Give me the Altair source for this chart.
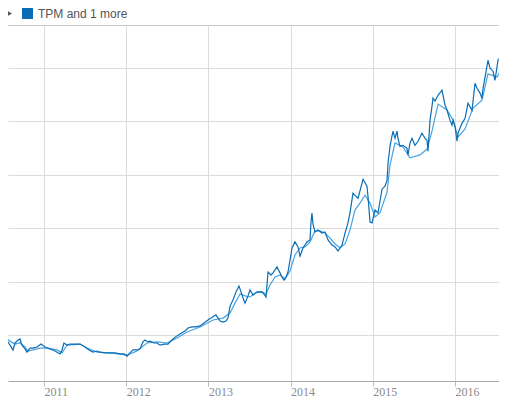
import altair as alt
import pandas as pd

# TPM daily close (decimal year, price)
price_year = [
    2010.465, 2010.489, 2010.501, 2010.526, 2010.562, 2010.586, 2010.623, 2010.647, 2010.684, 2010.708,
    2010.732, 2010.769, 2010.793, 2010.830, 2010.866, 2010.915, 2010.964, 2011.012, 2011.073, 2011.134,
    2011.195, 2011.219, 2011.243, 2011.280, 2011.316, 2011.377, 2011.438, 2011.499, 2011.547, 2011.596,
    2011.645, 2011.681, 2011.742, 2011.803, 2011.864, 2011.925, 2011.973, 2012.010, 2012.046, 2012.083,
    2012.131, 2012.168, 2012.204, 2012.229, 2012.265, 2012.289, 2012.338, 2012.375, 2012.411, 2012.460,
    2012.508, 2012.557, 2012.594, 2012.654, 2012.715, 2012.752, 2012.800, 2012.849, 2012.898, 2012.946,
    2012.995, 2013.032, 2013.068, 2013.092, 2013.117, 2013.141, 2013.178, 2013.214, 2013.238, 2013.263,
    2013.299, 2013.336, 2013.372, 2013.397, 2013.421, 2013.445, 2013.482, 2013.506, 2013.543, 2013.591,
    2013.652, 2013.676, 2013.701, 2013.725, 2013.761, 2013.786, 2013.810, 2013.834, 2013.871, 2013.895,
    2013.920, 2013.944, 2013.968, 2013.993, 2014.017, 2014.053, 2014.090, 2014.114, 2014.151, 2014.199,
    2014.236, 2014.248, 2014.260, 2014.272, 2014.297, 2014.333, 2014.382, 2014.418, 2014.455, 2014.504,
    2014.540, 2014.577, 2014.625, 2014.662, 2014.698, 2014.722, 2014.759, 2014.783, 2014.820, 2014.868,
    2014.881, 2014.929, 2014.941, 2014.966, 2014.990, 2015.027, 2015.063, 2015.112, 2015.148, 2015.173,
    2015.185, 2015.209, 2015.233, 2015.246, 2015.270, 2015.294, 2015.306, 2015.331, 2015.367, 2015.416,
    2015.428, 2015.452, 2015.477, 2015.513, 2015.550, 2015.598, 2015.635, 2015.659, 2015.671, 2015.696,
    2015.720, 2015.732, 2015.757, 2015.793, 2015.842, 2015.854, 2015.878, 2015.903, 2015.939, 2015.963,
    2015.976, 2016.000, 2016.024, 2016.036, 2016.085, 2016.122, 2016.158, 2016.207, 2016.243, 2016.268,
    2016.304, 2016.328, 2016.341, 2016.389, 2016.401, 2016.426, 2016.462, 2016.486, 2016.523, 2016.572,
    2016.584, 2016.608, 2016.633,
]
price_value = [
    2.09, 1.94, 1.68, 1.79, 1.76, 1.64, 1.46, 1.72, 1.83, 1.87,
    1.64, 1.50, 1.38, 1.53, 1.53, 1.57, 1.68, 1.57, 1.50, 1.42,
    1.31, 1.46, 1.72, 1.64, 1.68, 1.68, 1.68, 1.57, 1.46, 1.38,
    1.42, 1.38, 1.35, 1.35, 1.35, 1.31, 1.31, 1.23, 1.35, 1.46,
    1.46, 1.50, 1.76, 1.83, 1.76, 1.79, 1.72, 1.72, 1.64, 1.68,
    1.68, 1.83, 1.94, 2.06, 2.17, 2.28, 2.32, 2.32, 2.36, 2.47,
    2.58, 2.65, 2.73, 2.77, 2.65, 2.54, 2.50, 2.54, 2.65, 3.10,
    3.33, 3.63, 3.85, 3.63, 3.40, 3.21, 3.48, 3.70, 3.51, 3.63,
    3.63, 3.55, 3.44, 4.37, 4.26, 4.34, 4.45, 4.56, 4.34, 4.19,
    4.07, 4.19, 4.37, 4.82, 5.27, 5.50, 5.31, 4.97, 5.27, 5.50,
    5.57, 6.24, 6.58, 6.17, 5.87, 5.94, 5.83, 5.87, 5.57, 5.38,
    5.31, 5.16, 5.38, 5.83, 6.21, 6.58, 7.32, 7.24, 7.13, 7.69,
    7.84, 7.58, 7.21, 6.24, 6.21, 6.69, 6.58, 7.47, 7.58, 7.80,
    8.44, 9.07, 9.45, 9.64, 9.37, 9.64, 9.37, 9.07, 9.11, 9.00,
    8.74, 9.19, 9.37, 9.11, 9.26, 9.56, 9.37, 9.30, 8.89, 10.05,
    10.57, 10.87, 10.76, 10.98, 11.17, 10.98, 10.61, 10.42, 10.05, 9.86,
    10.05, 9.82, 9.26, 9.56, 9.93, 10.12, 10.68, 10.42, 11.43, 11.24,
    11.06, 10.87, 11.24, 12.07, 12.29, 11.99, 11.88, 11.54, 12.29, 12.48,
    12.81, 12.66, 12.55,
]

# second series (smoothed average)
avg_year = [
    2010.465, 2010.526, 2010.586, 2010.647, 2010.708, 2010.769, 2010.805, 2010.866, 2010.951, 2011.036,
    2011.158, 2011.219, 2011.280, 2011.438, 2011.523, 2011.645, 2011.803, 2012.010, 2012.131, 2012.253,
    2012.375, 2012.496, 2012.618, 2012.740, 2012.898, 2013.056, 2013.178, 2013.263, 2013.324, 2013.384,
    2013.445, 2013.506, 2013.567, 2013.652, 2013.701, 2013.749, 2013.810, 2013.871, 2013.932, 2013.993,
    2014.053, 2014.114, 2014.175, 2014.236, 2014.297, 2014.357, 2014.418, 2014.479, 2014.540, 2014.601,
    2014.662, 2014.722, 2014.783, 2014.844, 2014.905, 2014.966, 2015.027, 2015.087, 2015.173, 2015.209,
    2015.270, 2015.367, 2015.452, 2015.574, 2015.659, 2015.720, 2015.793, 2015.903, 2015.976, 2016.036,
    2016.122, 2016.219, 2016.328, 2016.401, 2016.511, 2016.633,
]
avg_value = [
    2.02, 1.91, 1.79, 1.68, 1.72, 1.57, 1.42, 1.46, 1.53, 1.53,
    1.46, 1.35, 1.64, 1.68, 1.53, 1.38, 1.35, 1.27, 1.42, 1.72,
    1.76, 1.72, 1.91, 2.13, 2.32, 2.58, 2.65, 2.84, 3.21, 3.55,
    3.48, 3.44, 3.59, 3.63, 3.55, 3.89, 4.19, 4.26, 4.11, 4.41,
    5.01, 5.27, 5.31, 5.50, 5.91, 5.91, 5.83, 5.64, 5.42, 5.27,
    5.42, 5.94, 6.69, 6.95, 7.25, 6.95, 6.43, 6.58, 7.36, 8.37,
    9.20, 9.05, 8.64, 8.75, 8.97, 9.64, 10.65, 10.43, 10.06, 9.42,
    9.72, 10.50, 10.80, 11.78, 11.66, 12.34,
]

year_ticks = [2011, 2012, 2013, 2014, 2015, 2016]
grid_values = [2, 4, 6, 8, 10, 12]
header_text = ["TPM and 1 more"]

DARK = "#0b6db3"
LIGHT = "#47a3e3"

df = pd.concat([
    pd.DataFrame({"year": avg_year, "price": avg_value, "series": "TPM average"}),
    pd.DataFrame({"year": price_year, "price": price_value, "series": "TPM"}),
], ignore_index=True)
df["order"] = range(len(df))

W, H = 491, 356

x_scale = alt.Scale(domain=[2010.562, 2016.535], nice=False, zero=False)
y_scale = alt.Scale(domain=[0.299, 13.607], nice=False, zero=False)

lines = alt.Chart(df).mark_line(clip=True, strokeWidth=1.2, interpolate="linear").encode(
    x=alt.X("year:Q", scale=x_scale,
            axis=alt.Axis(values=year_ticks, format="d", title=None, grid=True,
                          gridColor="#dcdcdc", gridWidth=1,
                          domainColor="#aaaaaa", tickColor="#bbbbbb", tickSize=5,
                          labelAlign="left", labelBaseline="alphabetic", labelPadding=9,
                          labelFont="Liberation Serif", labelFontSize=12, labelColor="#8a8a8a",
                          labelFlush=False, labelOverlap=False, labelBound=False)),
    y=alt.Y("price:Q", scale=y_scale,
            axis=alt.Axis(values=grid_values, title=None, labels=False, ticks=False,
                          domain=False, grid=True, gridColor="#dcdcdc", gridWidth=1)),
    color=alt.Color("series:N", scale=alt.Scale(domain=["TPM average", "TPM"], range=[LIGHT, DARK]),
                    legend=None),
    detail="series:N",
    order="order:Q",
)

hdr = pd.DataFrame({"t": header_text})

sep = alt.Chart(hdr).mark_rule(color="#cccccc", strokeWidth=1).encode(
    x=alt.value(0), x2=alt.value(W), y=alt.value(0.5))

swatch = alt.Chart(hdr).mark_rect(color=DARK).encode(
    x=alt.value(14), x2=alt.value(25), y=alt.value(-17), y2=alt.value(-6))

arrow = alt.Chart(hdr).mark_point(shape="triangle-right", filled=True, color="#555555",
                                  size=22, opacity=1).encode(
    x=alt.value(2), y=alt.value(-11.5))

label = alt.Chart(hdr).mark_text(align="left", baseline="middle", font="Liberation Sans",
                                 fontSize=12, color="#555555").encode(
    x=alt.value(30), y=alt.value(-11.5), text="t:N")

chart = alt.layer(lines, sep, swatch, arrow, label).properties(
    width=W, height=H,
    autosize=alt.AutoSizeParams(type="none"),
    padding={"left": 0, "top": 17, "right": 0, "bottom": 17},
).configure_view(stroke=None)

chart.save("out.html", embed_options={"renderer": "svg", "actions": False})
